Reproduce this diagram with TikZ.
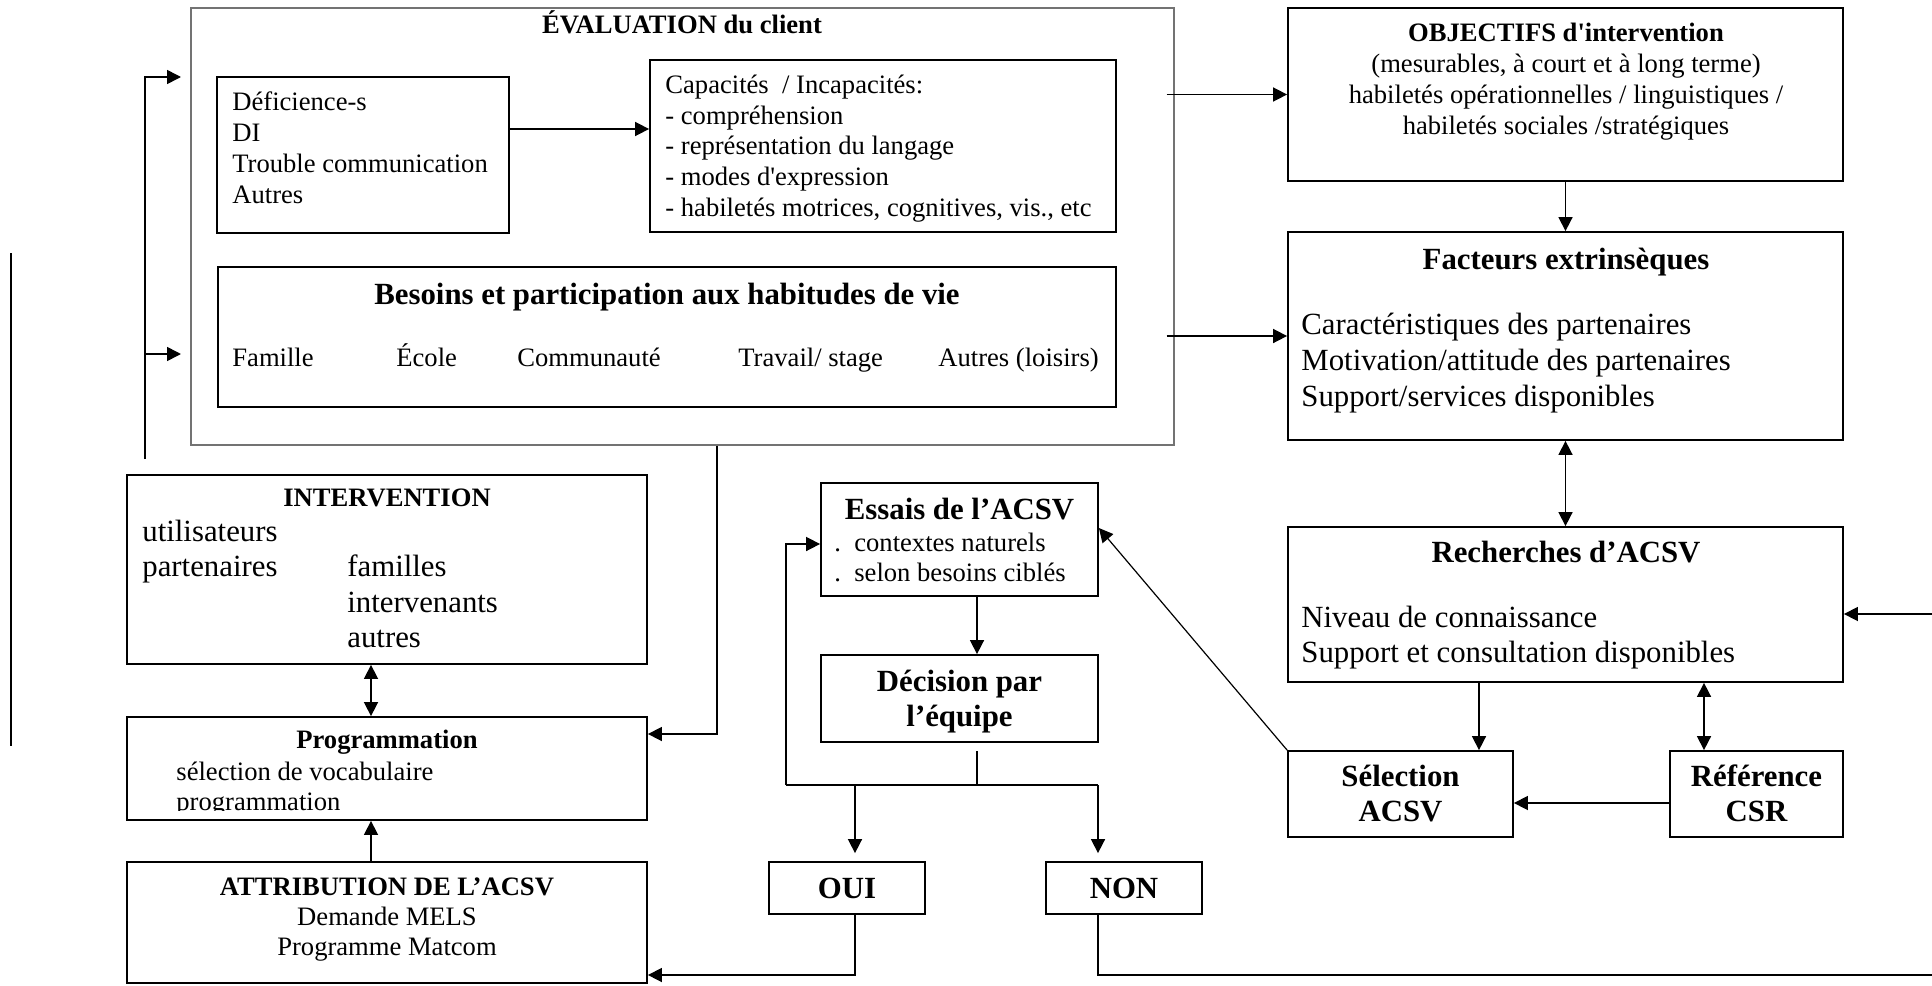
\documentclass[tikz,border=0pt]{standalone}
\usepackage{fontspec}
\newfontfamily\tnr{Liberation Serif}
\usetikzlibrary{arrows.meta,fit,calc}
\begin{document}
\begin{tikzpicture}[x=0.5pt,y=-0.5pt,
  box/.style={draw, line width=0.9pt, inner sep=0pt},
  sm/.style={font=\tnr\fontsize{13.3}{15.6}\selectfont, inner sep=0pt},
  smb/.style={font=\tnr\bfseries\fontsize{13.3}{15.6}\selectfont, inner sep=0pt},
  lg/.style={font=\tnr\fontsize{15.4}{18}\selectfont, inner sep=0pt},
  lgb/.style={font=\tnr\bfseries\fontsize{15.4}{18}\selectfont, inner sep=0pt},
  conn/.style={line width=0.8pt},
  arr/.style={conn, -{Triangle[length=7pt,width=7pt]}},
  darr/.style={conn, {Triangle[length=7pt,width=7pt]}-{Triangle[length=7pt,width=7pt]}},
]
\useasboundingbox (0,0) rectangle (1932,985);

% ---------- boxes ----------
\node[box, draw=black!55, line width=0.6pt, fit={(191,8) (1174,445)}] (EVAL) {};
\node[box, fit={(217,77) (509,233)}] (Def) {};
\node[box, fit={(650,60) (1116,232)}] (Cap) {};
\node[box, fit={(218,267) (1116,407)}] (Bes) {};
\node[box, fit={(1288,8) (1843,181)}] (OBJ) {};
\node[box, fit={(1288,232) (1843,440)}] (Fac) {};
\node[box, fit={(1288,527) (1843,682)}] (Rech) {};
\node[box, fit={(1288,751) (1513,837)}] (Sel) {};
\node[box, fit={(1670,751) (1843,837)}] (Ref) {};
\node[box, fit={(127,475) (647,664)}] (INT) {};
\node[box, fit={(127,717) (647,820)}] (Prog) {};
\node[box, fit={(127,862) (647,983)}] (ATT) {};
\node[box, fit={(821,483) (1098,596)}] (Ess) {};
\node[box, fit={(821,655) (1098,742)}] (Dec) {};
\node[box, fit={(769,862) (925,914)}] (OUI) {};
\node[box, fit={(1046,862) (1202,914)}] (NON) {};

% ---------- texts ----------
\node[smb, anchor=base] (tEval) at (682,33) {ÉVALUATION du client};

\node[sm, anchor=base west] (tDef1) at (232,110) {Déficience-s};
\node[sm, anchor=base west] (tDef2) at (232,141) {DI};
\node[sm, anchor=base west] (tDef3) at (232,172) {Trouble communication};
\node[sm, anchor=base west] (tDef4) at (232,203) {Autres};

\node[sm, anchor=base west] (tCap1) at (665,93) {Capacités\ \ / Incapacités:};
\node[sm, anchor=base west] (tCap2) at (665,124) {- compréhension};
\node[sm, anchor=base west] (tCap3) at (665,154.5) {- représentation du langage};
\node[sm, anchor=base west] (tCap4) at (665,185) {- modes d'expression};
\node[sm, anchor=base west] (tCap5) at (665,216) {- habiletés motrices, cognitives, vis., etc};

\node[lgb, anchor=base] (tBes) at (667,304) {Besoins et participation aux habitudes de vie};
\node[sm, anchor=base west] (tB1) at (232,366) {Famille};
\node[sm, anchor=base west] (tB2) at (396,366) {École};
\node[sm, anchor=base west] (tB3) at (517,366) {Communauté};
\node[sm, anchor=base west] (tB4) at (738,366) {Travail/ stage};
\node[sm, anchor=base west] (tB5) at (938,366) {Autres (loisirs)};

\node[smb, anchor=base] (tObj1) at (1566,41) {OBJECTIFS d'intervention};
\node[sm, anchor=base] (tObj2) at (1566,72) {(mesurables, à court et à long terme)};
\node[sm, anchor=base] (tObj3) at (1566,103) {habiletés opérationnelles / linguistiques /};
\node[sm, anchor=base] (tObj4) at (1566,134) {habiletés sociales /stratégiques};

\node[lgb, anchor=base] (tFac) at (1566,269) {Facteurs extrinsèques};
\node[lg, anchor=base west] (tFac1) at (1301,334) {Caractéristiques des partenaires};
\node[lg, anchor=base west] (tFac2) at (1301,370) {Motivation/attitude des partenaires};
\node[lg, anchor=base west] (tFac3) at (1301,406) {Support/services disponibles};

\node[lgb, anchor=base] (tRech) at (1566,562) {Recherches d’ACSV};
\node[lg, anchor=base west] (tRech1) at (1301,627) {Niveau de connaissance};
\node[lg, anchor=base west] (tRech2) at (1301,662) {Support et consultation disponibles};

\node[lgb, anchor=base] (tSel1) at (1400.5,786) {Sélection};
\node[lgb, anchor=base] (tSel2) at (1400.5,821) {ACSV};
\node[lgb, anchor=base] (tRef1) at (1756.5,786) {Référence};
\node[lgb, anchor=base] (tRef2) at (1756.5,821) {CSR};

\node[lgb, anchor=base] (tEss) at (959.5,519) {Essais de l’ACSV};
\node[sm, anchor=base west] (tEss1) at (834,551) {.\ \ contextes naturels};
\node[sm, anchor=base west] (tEss2) at (834,581) {.\ \ selon besoins ciblés};

\node[lgb, anchor=base] (tDec1) at (959.5,691) {Décision par};
\node[lgb, anchor=base] (tDec2) at (959.5,726) {l’équipe};

\node[lgb, anchor=base] (tOui) at (847,898) {OUI};
\node[lgb, anchor=base] (tNon) at (1124,898) {NON};

\node[smb, anchor=base] (tInt) at (387,506) {INTERVENTION};
\node[lg, anchor=base west] (tInt1) at (142,541) {utilisateurs};
\node[lg, anchor=base west] (tInt2) at (142,576) {partenaires};
\node[lg, anchor=base west] (tInt3) at (347,576) {familles};
\node[lg, anchor=base west] (tInt4) at (347,612) {intervenants};
\node[lg, anchor=base west] (tInt5) at (347,647) {autres};

\node[smb, anchor=base] (tProg) at (387,748) {Programmation};
\node[sm, anchor=base west] (tProg1) at (176,780) {sélection de vocabulaire};
\begin{scope}
\clip (127,717) rectangle (647,810);
\node[sm, anchor=base west] (tProg2) at (176,810) {programmation};
\end{scope}

\node[smb, anchor=base] (tAtt) at (387,895) {ATTRIBUTION DE L’ACSV};
\node[sm, anchor=base] (tAtt1) at (387,925) {Demande MELS};
\node[sm, anchor=base] (tAtt2) at (387,955) {Programme Matcom};

% ---------- connectors ----------
\coordinate (dc) at (511,129);
\draw[arr] (Def.east |- dc) -- (Cap.west |- dc);

\coordinate (ev1) at ([xshift=-4pt]EVAL.east);
\draw[arr] (ev1 |- OBJ.west) -- (OBJ.west);
\draw[arr] (ev1 |- Fac.west) -- (Fac.west);

\draw[arr] (OBJ.south) -- (Fac.north);
\draw[darr] (Fac.south) -- (Rech.north);

\coordinate (rs) at (1479,700);
\draw[arr] (Rech.south -| rs) -- (Sel.north -| rs);
\coordinate (rr) at (1704,700);
\draw[darr] (Rech.south -| rr) -- (Ref.north -| rr);
\coordinate (rf) at (1600,803);
\draw[arr] (Ref.west |- rf) -- (Sel.east |- rf);
\coordinate (rin) at (1932,614);
\draw[arr] (rin) -- (Rech.east |- rin);

\draw[arr, line width=0.6pt] (Sel.north west) -- ($(Ess.north east)!0.4!(Ess.south east)$);

\coordinate (ed) at (977,600);
\draw[arr] (Ess.south -| ed) -- (Dec.north -| ed);

\coordinate (d0) at (977,751);
\coordinate (d1) at (977,785);
\coordinate (dl) at (786,785);
\coordinate (dr) at (1098,785);
\coordinate (du) at (855,785);
\coordinate (ein) at (821,544);
\draw[conn] (d0) -- (d1);
\draw[conn] (dl) -- (dr);
\draw[arr] (dl) |- (Ess.west |- ein);
\draw[arr, shorten >=4pt] (du) -- (du |- OUI.north);
\draw[arr, shorten >=4pt] (dr) -- (dr |- NON.north);

\coordinate (ob) at (855,975);
\draw[arr] (ob |- OUI.south) -- (ob) -- (ATT.east |- ob);
\coordinate (nb) at (1098,975);
\coordinate (nend) at (1932,975);
\draw[conn] (nb |- NON.south) -- (nb) -- (nend);

\coordinate (ep) at (717,734);
\draw[arr] (EVAL.south -| ep) -- (ep) -- (Prog.east |- ep);

\coordinate (ip) at (371,690);
\draw[darr] (INT.south -| ip) -- (Prog.north -| ip);
\draw[arr] (ATT.north -| ip) -- (Prog.south -| ip);

\coordinate (fb0) at (145,459);
\coordinate (fb1) at (145,77);
\coordinate (fb2) at (145,354);
\coordinate (ft1) at (181,77);
\coordinate (ft2) at (181,354);
\draw[arr] (fb0) -- (fb1) -- (ft1);
\draw[arr] (fb2) -- (ft2);

\coordinate (ll0) at (11,253);
\coordinate (ll1) at (11,746);
\draw[conn] (ll0) -- (ll1);
\end{tikzpicture}
\end{document}
